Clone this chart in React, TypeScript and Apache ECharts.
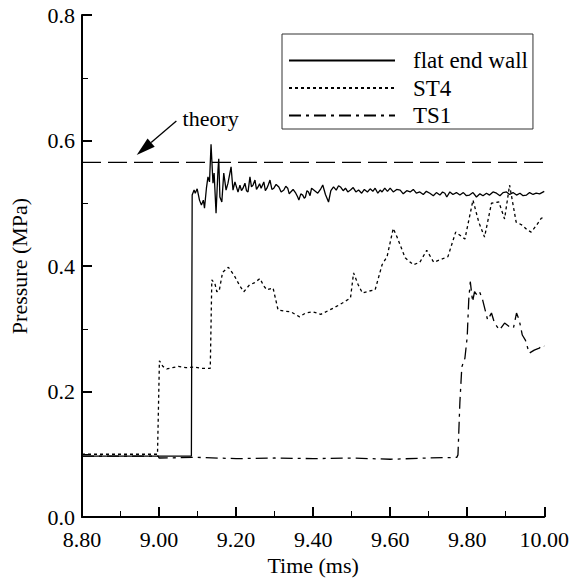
import React, { useEffect, useRef } from "react";
import * as echarts from "echarts";

const FONT = "Liberation Serif";

const xTickMin = 8.8;
const xTickMax = 10.0;
const yTickMin = 0;
const yTickMax = 0.8;

const theoryValue = 0.565;
const theoryLabel = "theory";
// annotation anchor points in data units: [time, pressure]
const arrowTip: [number, number] = [8.942, 0.577];
const arrowTail: [number, number] = [9.045, 0.631];
const theoryTextPos: [number, number] = [9.061, 0.635];

const flatEndWall: [number, number][] = [
  [8.8, 0.097], [9.084, 0.097], [9.086, 0.513], [9.091, 0.521], [9.094, 0.516], [9.099, 0.523],
  [9.105, 0.505], [9.11, 0.497], [9.115, 0.505], [9.118, 0.492], [9.123, 0.524], [9.127, 0.542],
  [9.131, 0.534], [9.135, 0.594], [9.14, 0.532], [9.143, 0.548], [9.148, 0.484], [9.153, 0.553],
  [9.155, 0.571], [9.158, 0.51], [9.163, 0.502], [9.168, 0.548], [9.174, 0.521], [9.179, 0.532],
  [9.187, 0.558], [9.192, 0.521], [9.197, 0.534], [9.205, 0.518], [9.21, 0.529], [9.214, 0.52],
  [9.218, 0.524], [9.223, 0.532], [9.227, 0.52], [9.231, 0.518], [9.236, 0.542], [9.24, 0.526],
  [9.244, 0.529], [9.249, 0.537], [9.253, 0.522], [9.257, 0.526], [9.261, 0.531], [9.265, 0.524],
  [9.272, 0.534], [9.276, 0.52], [9.28, 0.524], [9.284, 0.53], [9.288, 0.537], [9.293, 0.522],
  [9.298, 0.524], [9.304, 0.53], [9.311, 0.526], [9.317, 0.518], [9.324, 0.521], [9.329, 0.527],
  [9.334, 0.524], [9.338, 0.515], [9.342, 0.518], [9.348, 0.522], [9.355, 0.516], [9.36, 0.51],
  [9.363, 0.505], [9.368, 0.515], [9.373, 0.513], [9.377, 0.508], [9.38, 0.51], [9.384, 0.52],
  [9.388, 0.518], [9.392, 0.512], [9.396, 0.524], [9.404, 0.52], [9.412, 0.516], [9.419, 0.522],
  [9.425, 0.529], [9.432, 0.514], [9.44, 0.502], [9.446, 0.52], [9.453, 0.526], [9.46, 0.521],
  [9.466, 0.528], [9.471, 0.526], [9.478, 0.52], [9.484, 0.524], [9.49, 0.518], [9.497, 0.521],
  [9.504, 0.525], [9.511, 0.518], [9.518, 0.521], [9.526, 0.516], [9.533, 0.522], [9.541, 0.518],
  [9.548, 0.523], [9.555, 0.519], [9.561, 0.524], [9.568, 0.516], [9.574, 0.521], [9.579, 0.518],
  [9.586, 0.524], [9.593, 0.519], [9.6, 0.524], [9.608, 0.518], [9.617, 0.522], [9.626, 0.521],
  [9.634, 0.515], [9.643, 0.52], [9.652, 0.518], [9.66, 0.522], [9.668, 0.516], [9.677, 0.518],
  [9.686, 0.514], [9.694, 0.519], [9.703, 0.516], [9.712, 0.512], [9.72, 0.517], [9.729, 0.513],
  [9.736, 0.518], [9.742, 0.516], [9.747, 0.51], [9.755, 0.518], [9.763, 0.514], [9.772, 0.517],
  [9.781, 0.513], [9.79, 0.517], [9.798, 0.512], [9.806, 0.513], [9.815, 0.517], [9.824, 0.51],
  [9.833, 0.515], [9.841, 0.512], [9.85, 0.516], [9.858, 0.513], [9.867, 0.518], [9.876, 0.516],
  [9.885, 0.512], [9.893, 0.517], [9.902, 0.518], [9.91, 0.514], [9.919, 0.517], [9.928, 0.513],
  [9.937, 0.516], [9.945, 0.512], [9.954, 0.513], [9.962, 0.517], [9.971, 0.514], [9.979, 0.516],
  [9.988, 0.515], [10.0, 0.519],
];

const st4: [number, number][] = [
  [8.8, 0.1], [8.996, 0.1], [9.001, 0.249], [9.01, 0.24], [9.02, 0.236], [9.035, 0.238],
  [9.05, 0.24], [9.07, 0.238], [9.09, 0.239], [9.11, 0.237], [9.133, 0.237], [9.137, 0.378],
  [9.145, 0.372], [9.15, 0.359], [9.156, 0.36], [9.165, 0.39], [9.18, 0.398], [9.195, 0.385],
  [9.21, 0.368], [9.22, 0.359], [9.235, 0.37], [9.247, 0.373], [9.262, 0.38], [9.272, 0.368],
  [9.28, 0.362], [9.296, 0.365], [9.309, 0.33], [9.325, 0.328], [9.342, 0.327], [9.365, 0.319],
  [9.38, 0.325], [9.399, 0.327], [9.42, 0.323], [9.453, 0.333], [9.476, 0.341], [9.497, 0.349],
  [9.505, 0.389], [9.517, 0.37], [9.528, 0.357], [9.545, 0.36], [9.561, 0.362], [9.579, 0.402],
  [9.592, 0.415], [9.608, 0.46], [9.618, 0.446], [9.639, 0.413], [9.66, 0.402], [9.677, 0.406],
  [9.695, 0.425], [9.713, 0.406], [9.73, 0.41], [9.75, 0.415], [9.77, 0.454], [9.794, 0.443],
  [9.815, 0.505], [9.83, 0.47], [9.845, 0.446], [9.863, 0.5], [9.882, 0.502], [9.897, 0.475],
  [9.91, 0.529], [9.927, 0.47], [9.943, 0.465], [9.955, 0.458], [9.966, 0.454], [9.98, 0.465],
  [9.992, 0.476], [10.0, 0.478],
];

const ts1: [number, number][] = [
  [8.8, 0.097], [8.998, 0.097], [9.0, 0.094], [9.1, 0.095], [9.2, 0.093], [9.3, 0.094],
  [9.4, 0.093], [9.5, 0.094], [9.6, 0.092], [9.7, 0.094], [9.773, 0.095], [9.776, 0.099],
  [9.781, 0.183], [9.786, 0.239], [9.794, 0.253], [9.8, 0.287], [9.804, 0.346], [9.808, 0.375],
  [9.814, 0.343], [9.819, 0.359], [9.825, 0.354], [9.832, 0.359], [9.84, 0.346], [9.853, 0.314],
  [9.863, 0.325], [9.871, 0.309], [9.884, 0.298], [9.897, 0.309], [9.91, 0.303], [9.92, 0.301],
  [9.928, 0.325], [9.935, 0.314], [9.943, 0.29], [9.951, 0.282], [9.961, 0.261], [9.974, 0.266],
  [9.987, 0.269], [9.995, 0.274], [10.0, 0.272],
];

const theory: [number, number][] = [
  [xTickMin, theoryValue],
  [xTickMax, theoryValue],
];

const seriesNames = ["flat end wall", "ST4", "TS1"];

export default function App() {
  const ref = useRef<HTMLDivElement>(null);

  useEffect(() => {
    if (!ref.current) return;
    const chart = echarts.init(ref.current, null, { renderer: "svg" });
    const axisCommon = {
      nameLocation: "middle" as const,
      nameTextStyle: { fontSize: 22, color: "#000", fontFamily: FONT },
      axisLine: { lineStyle: { color: "#000", width: 2 } },
      axisTick: { inside: true, length: 10, lineStyle: { color: "#000", width: 2 } },
      minorTick: { show: true, splitNumber: 2, length: 6, lineStyle: { color: "#000", width: 1 } },
      splitLine: { show: false },
      minorSplitLine: { show: false },
    };
    chart.setOption({
      animation: false,
      textStyle: { fontFamily: FONT },
      grid: { left: 80, right: 27, top: 15, bottom: 67 },
      xAxis: {
        type: "value",
        min: xTickMin,
        max: xTickMax,
        interval: 0.2,
        name: "Time (ms)",
        nameGap: 34,
        ...axisCommon,
        axisLabel: {
          formatter: (v: number) => v.toFixed(2),
          fontSize: 22,
          lineHeight: 16,
          color: "#000",
          margin: 14,
          fontFamily: FONT,
        },
      },
      yAxis: {
        type: "value",
        min: yTickMin,
        max: yTickMax,
        interval: 0.2,
        name: "Pressure (MPa)",
        nameGap: 52,
        ...axisCommon,
        axisLabel: {
          formatter: (v: number) => v.toFixed(1),
          fontSize: 22,
          lineHeight: 16,
          color: "#000",
          margin: 7,
          fontFamily: FONT,
        },
      },
      legend: {
        data: seriesNames,
        orient: "vertical",
        left: 282,
        top: 34,
        padding: [15, 5, 2, 6],
        itemWidth: 106,
        itemHeight: 20,
        itemGap: 4.5,
        borderColor: "#333",
        borderWidth: 1,
        itemStyle: { opacity: 0 },
        textStyle: {
          fontSize: 23,
          color: "#000",
          fontFamily: FONT,
          padding: [0, 0, 0, 13],
        },
      },
      series: [
        {
          name: seriesNames[0],
          type: "line",
          data: flatEndWall,
          symbol: "none",
          lineStyle: { color: "#000", width: 1.3, type: "solid" },
          itemStyle: { color: "#000" },
        },
        {
          name: seriesNames[1],
          type: "line",
          data: st4,
          symbol: "none",
          lineStyle: { color: "#000", width: 1.3, type: [3, 3] },
          itemStyle: { color: "#000" },
        },
        {
          name: seriesNames[2],
          type: "line",
          data: ts1,
          symbol: "none",
          lineStyle: { color: "#000", width: 1.3, type: [12, 5, 3, 5] },
          itemStyle: { color: "#000" },
        },
        {
          name: "theory",
          type: "line",
          data: theory,
          symbol: "none",
          silent: true,
          lineStyle: { color: "#000", width: 1.3, type: [19, 7] },
          itemStyle: { color: "#000" },
        },
      ],
    });

    const tip = chart.convertToPixel({ gridIndex: 0 }, arrowTip) as number[];
    const tail = chart.convertToPixel({ gridIndex: 0 }, arrowTail) as number[];
    const tp = chart.convertToPixel({ gridIndex: 0 }, theoryTextPos) as number[];
    const dx = tip[0] - tail[0];
    const dy = tip[1] - tail[1];
    const len = Math.sqrt(dx * dx + dy * dy);
    const ux = dx / len;
    const uy = dy / len;
    const headLen = 19;
    const headHalf = 5.5;
    const bx = tip[0] - ux * headLen;
    const by = tip[1] - uy * headLen;
    const px = -uy;
    const py = ux;

    chart.setOption({
      graphic: [
        {
          type: "line",
          shape: { x1: tail[0], y1: tail[1], x2: bx, y2: by },
          style: { stroke: "#000", lineWidth: 1.3 },
        },
        {
          type: "polygon",
          shape: {
            points: [
              [tip[0], tip[1]],
              [bx + px * headHalf, by + py * headHalf],
              [bx - px * headHalf, by - py * headHalf],
            ],
          },
          style: { fill: "#000" },
        },
        {
          type: "text",
          x: tp[0],
          y: tp[1],
          style: {
            text: theoryLabel,
            fontSize: 22,
            fontFamily: FONT,
            fill: "#000",
            align: "left",
            verticalAlign: "middle",
          },
        },
      ],
    });

    return () => chart.dispose();
  }, []);

  return (
    <div
      ref={ref}
      style={{ position: "absolute", left: 0, top: 0, width: 572, height: 584, background: "#fff" }}
    />
  );
}
